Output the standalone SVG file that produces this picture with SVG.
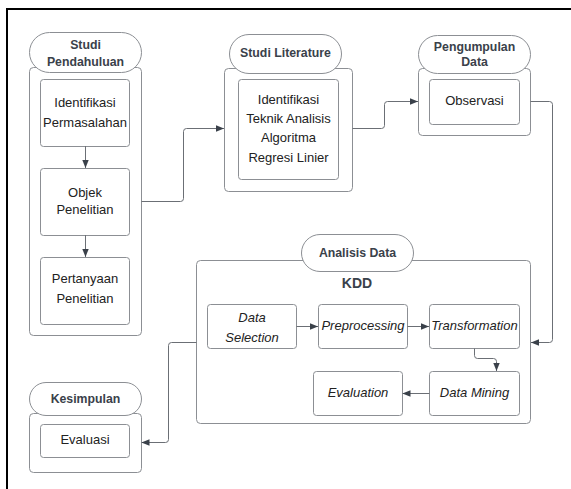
<svg xmlns="http://www.w3.org/2000/svg" width="571" height="489" viewBox="0 0 571 489">
<defs>
<style>
.frame{fill:none;stroke:#000;stroke-width:2}
.cont{fill:#fff;stroke:#8c8f94;stroke-width:1}
.box{fill:#fff;stroke:#8c8f94;stroke-width:1}
.pill{fill:#fff;stroke:#8c8f94;stroke-width:1}
.t{font-family:"Liberation Sans",Arial,sans-serif;font-size:13px;fill:#222;text-anchor:middle}
.i{font-style:italic}
.h{font-family:"Liberation Sans",Arial,sans-serif;font-size:12.3px;font-weight:bold;fill:#3a414a;text-anchor:middle}
.c{fill:none;stroke:#6b6f75;stroke-width:1}
</style>
<marker id="ah" viewBox="0 0 10 10" refX="10" refY="5" markerWidth="8" markerHeight="8" markerUnits="userSpaceOnUse" orient="auto">
<path d="M0,1 L10,5 L0,9 Z" fill="#3a414a"/>
</marker>
</defs>
<rect width="571" height="489" fill="#fff"/>
<rect class="frame" x="7" y="9" width="600" height="520"/>

<g id="studi-pendahuluan">
<rect class="cont" x="29.5" y="67.5" width="112" height="268" rx="4"/>
<rect class="pill" x="29.5" y="32.5" width="112" height="40" rx="20"/>
<text class="h" x="85.5" y="48.5">Studi</text>
<text class="h" x="85.5" y="65.5">Pendahuluan</text>
</g>
<g id="identifikasi-permasalahan">
<rect class="box" x="40.5" y="79.5" width="89" height="67" rx="3"/>
<text class="t" x="85" y="107">Identifikasi</text>
<text class="t" x="85" y="127">Permasalahan</text>
</g>
<g id="objek-penelitian">
<rect class="box" x="40.5" y="168.5" width="89" height="67" rx="3"/>
<text class="t" x="85" y="197">Objek</text>
<text class="t" x="85" y="214">Penelitian</text>
</g>
<g id="pertanyaan-penelitian">
<rect class="box" x="40.5" y="257.5" width="89" height="67" rx="3"/>
<text class="t" x="85" y="283">Pertanyaan</text>
<text class="t" x="85" y="303">Penelitian</text>
</g>

<g id="studi-literature">
<rect class="cont" x="224.5" y="68.5" width="128" height="123" rx="4"/>
<rect class="pill" x="229.5" y="34.5" width="112" height="39" rx="19.5"/>
<text class="h" x="285.5" y="57">Studi Literature</text>
<rect class="box" x="238.5" y="79.5" width="100" height="100" rx="3"/>
<text class="t" x="288.5" y="104">Identifikasi</text>
<text class="t" x="288.5" y="123">Teknik Analisis</text>
<text class="t" x="288.5" y="142">Algoritma</text>
<text class="t" x="288.5" y="161.5">Regresi Linier</text>
</g>

<g id="pengumpulan-data">
<rect class="cont" x="418.5" y="68.5" width="112" height="67" rx="4"/>
<rect class="pill" x="418.5" y="35.5" width="112" height="38" rx="19"/>
<text class="h" x="474.5" y="50.5">Pengumpulan</text>
<text class="h" x="474.5" y="65.5">Data</text>
<rect class="box" x="429.5" y="79.5" width="90" height="45" rx="3"/>
<text class="t" x="474.5" y="105">Observasi</text>
</g>

<g id="analisis-data">
<rect class="cont" x="196.5" y="260.5" width="334" height="163" rx="4"/>
<rect class="pill" x="301.5" y="234.5" width="112" height="37" rx="18.5"/>
<text class="h" x="357.5" y="256.5">Analisis Data</text>
<text class="h" x="357" y="288" style="font-size:14px">KDD</text>
</g>
<g id="data-selection">
<rect class="box" x="207.5" y="304.5" width="89" height="44" rx="3"/>
<text class="t i" x="252" y="321.5">Data</text>
<text class="t i" x="252" y="341.5">Selection</text>
</g>
<g id="preprocessing">
<rect class="box" x="318.5" y="304.5" width="89" height="44" rx="3"/>
<text class="t i" x="363" y="330">Preprocessing</text>
</g>
<g id="transformation">
<rect class="box" x="429.5" y="304.5" width="90" height="44" rx="3"/>
<text class="t i" x="474.5" y="330">Transformation</text>
</g>
<g id="data-mining">
<rect class="box" x="429.5" y="371.5" width="90" height="44" rx="3"/>
<text class="t i" x="474.5" y="397">Data Mining</text>
</g>
<g id="evaluation">
<rect class="box" x="313.5" y="371.5" width="89" height="44" rx="3"/>
<text class="t i" x="358" y="397">Evaluation</text>
</g>

<g id="kesimpulan">
<rect class="cont" x="29.5" y="413.5" width="112" height="59" rx="4"/>
<rect class="pill" x="29.5" y="382.5" width="112" height="33" rx="16.5"/>
<text class="h" x="85.5" y="402.5">Kesimpulan</text>
<rect class="box" x="40.5" y="424.5" width="89" height="33" rx="3"/>
<text class="t" x="85" y="444">Evaluasi</text>
</g>

<g id="connectors">
<path class="c" d="M85.5,146 V168" marker-end="url(#ah)"/>
<path class="c" d="M85.5,235 V257" marker-end="url(#ah)"/>
<path class="c" d="M141.5,201.5 H180.5 Q183.5,201.5 183.5,198.5 V131.5 Q183.5,128.5 186.5,128.5 H224" marker-end="url(#ah)"/>
<path class="c" d="M352.5,128.5 H381.5 Q384.5,128.5 384.5,125.5 V104.5 Q384.5,101.5 387.5,101.5 H418" marker-end="url(#ah)"/>
<path class="c" d="M530.5,101.5 H549.5 Q552.5,101.5 552.5,104.5 V339.5 Q552.5,342.5 549.5,342.5 H531" marker-end="url(#ah)"/>
<path class="c" d="M296.5,326.5 H318" marker-end="url(#ah)"/>
<path class="c" d="M407.5,326.5 H429" marker-end="url(#ah)"/>
<path class="c" d="M474.5,348.5 V355.5 Q474.5,358.5 477.5,358.5 H493.5 Q496.5,358.5 496.5,361.5 V371" marker-end="url(#ah)"/>
<path class="c" d="M429.5,393.5 H402.5" marker-end="url(#ah)"/>
<path class="c" d="M196.5,342.5 H171.5 Q168.5,342.5 168.5,345.5 V439.5 Q168.5,442.5 165.5,442.5 H141.5" marker-end="url(#ah)"/>
</g>
</svg>
